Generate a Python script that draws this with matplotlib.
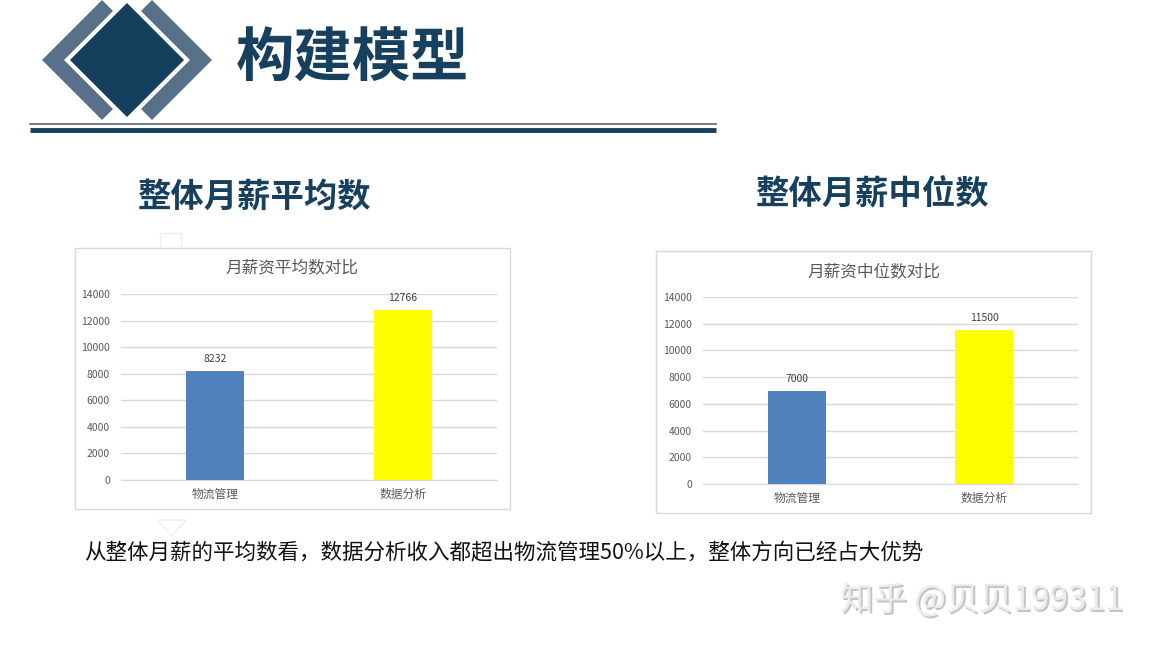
import matplotlib
matplotlib.use('Agg')
import matplotlib.pyplot as plt
from matplotlib.patches import Polygon, Rectangle

plt.rcParams['font.family'] = ['Noto Sans CJK SC', 'DejaVu Sans']

categories = ['物流管理', '数据分析']
mean_salary = [8232, 12766]
median_salary = [7000, 11500]
bar_colors = ['#4f81bd', '#ffff00']
y_ticks = [0, 2000, 4000, 6000, 8000, 10000, 12000, 14000]

W, H = 1158, 649
NAVY = '#17405f'
SLATE = '#587189'

fig = plt.figure(figsize=(W / 100, H / 100), dpi=100)
fig.patch.set_facecolor('white')

# background layer in pixel coordinates
bg = fig.add_axes([0, 0, 1, 1])
bg.set_xlim(0, W)
bg.set_ylim(H, 0)
bg.axis('off')


def diamond(cx, cy, r):
    return [(cx - r, cy), (cx, cy - r), (cx + r, cy), (cx, cy + r)]


# logo
bg.add_patch(Polygon(diamond(102, 60, 60), closed=True, fc=SLATE, ec='none'))
bg.add_patch(Polygon(diamond(152, 60, 60), closed=True, fc=SLATE, ec='none'))
bg.add_patch(Polygon(diamond(127, 60, 60), closed=True, fc=NAVY, ec='white', lw=3))

bg.text(236, 60, '构建模型', fontsize=42, fontweight='heavy', color=NAVY,
        ha='left', va='center')
bg.plot([30, 716], [124, 124], color='#5a6a78', lw=1.2)
bg.plot([30, 716], [129.5, 129.5], color=NAVY, lw=3.5, solid_capstyle='butt')

# section headings
bg.text(254, 198, '整体月薪平均数', fontsize=24, fontweight='bold', color=NAVY,
        ha='center', va='center')
bg.text(872, 195, '整体月薪中位数', fontsize=24, fontweight='bold', color=NAVY,
        ha='center', va='center')

# faint leftovers from the slide
bg.add_patch(Rectangle((160, 233), 21, 16, fc='none', ec='#eeeeee', lw=1))
bg.add_patch(Polygon([(157, 520), (186, 520), (171.5, 536)], closed=True,
                     fc='none', ec='#eeeeee', lw=1))

# chart frames
bg.add_patch(Rectangle((75, 248), 435, 261, fc='white', ec='#d9d9d9', lw=1))
bg.add_patch(Rectangle((656, 251), 435, 262, fc='white', ec='#d9d9d9', lw=1))

bg.text(292, 268, '月薪资平均数对比', fontsize=12, fontweight='light', color='#595959',
        ha='center', va='center')
bg.text(874, 272, '月薪资中位数对比', fontsize=12, fontweight='light', color='#595959',
        ha='center', va='center')

bg.text(84, 553, '从整体月薪的平均数看，数据分析收入都超出物流管理50%以上，整体方向已经占大优势',
        fontsize=15.5, color='#111111', ha='left', va='center')

# watermark
for dx, dy, c in [(1.5, 1.5, '#c4c4c4'), (0, 0, '#ececec')]:
    bg.text(840 + dx, 601 + dy, '知乎 @贝贝199311', fontsize=24, fontweight='light',
            color=c, ha='left', va='center')


def bar_chart(left_px, right_px, zero_px, top_px, values):
    ax = fig.add_axes([left_px / W, (H - zero_px) / H,
                       (right_px - left_px) / W, (zero_px - top_px) / H])
    ax.set_facecolor('none')
    x = range(len(categories))
    bars = ax.bar(x, values, width=0.31, color=bar_colors, zorder=3)
    ax.set_xlim(-0.5, len(categories) - 0.5)
    ax.set_ylim(0, 14000)
    ax.set_yticks(y_ticks)
    ax.set_yticklabels([str(t) for t in y_ticks])
    ax.grid(axis='y', color='#d9d9d9', lw=1, zorder=0)
    ax.set_xticks(list(x))
    ax.set_xticklabels(categories, fontsize=8.5, color='#595959')
    ax.tick_params(axis='y', length=0, labelsize=7.5, labelcolor='#595959', pad=8)
    ax.tick_params(axis='x', length=0, pad=6)
    for s in ['left', 'right', 'top']:
        ax.spines[s].set_visible(False)
    ax.spines['bottom'].set_color('#d9d9d9')
    for b, v in zip(bars, values):
        ax.annotate(str(v), (b.get_x() + b.get_width() / 2, v),
                    xytext=(0, 5), textcoords='offset points',
                    ha='center', va='bottom', fontsize=7.5, color='#404040')
    return ax


bar_chart(121, 497, 480, 294, mean_salary)
bar_chart(703, 1078, 484, 297, median_salary)

fig.savefig('out.png', dpi=100)
